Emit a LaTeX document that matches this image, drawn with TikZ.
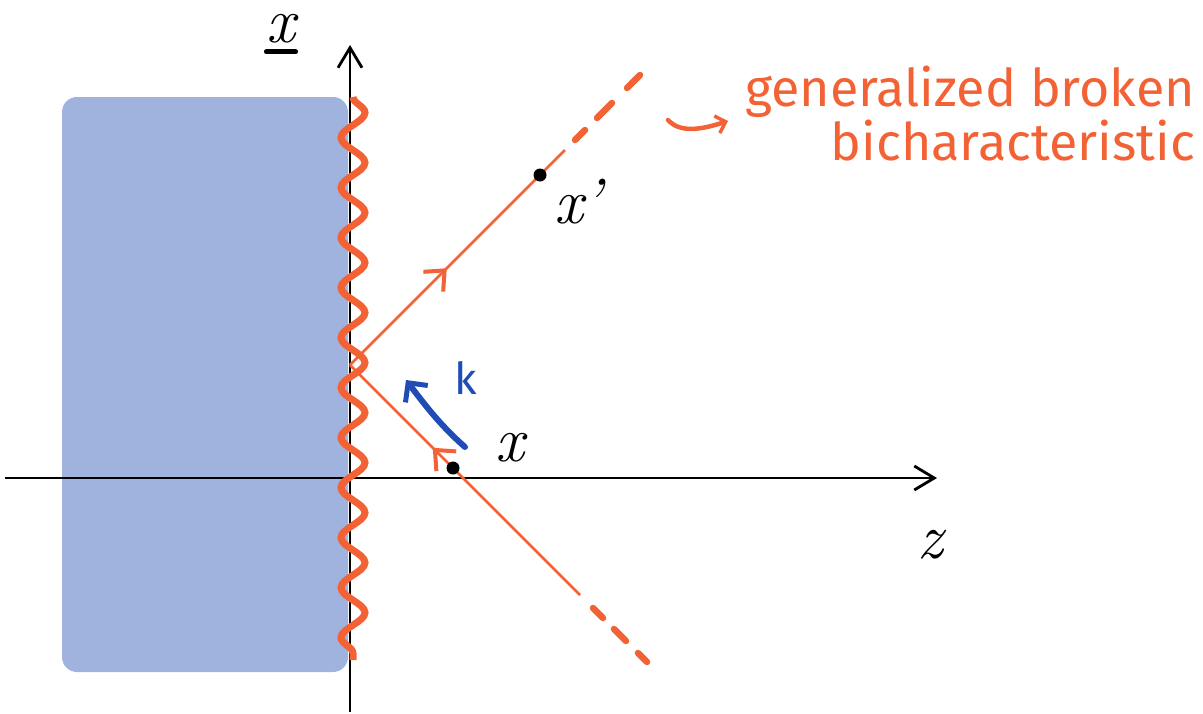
\documentclass[tikz,border=0pt]{standalone}
\usepackage{fontspec}
\setsansfont{Fira Sans}
\definecolor{RayOrange}{HTML}{F26235}
\definecolor{WallBlue}{HTML}{A0B3DE}
\definecolor{KBlue}{HTML}{1F4DB5}
\usetikzlibrary{arrows.meta,decorations.pathmorphing,decorations.markings}

\begin{document}
\begin{tikzpicture}[
  x=1pt,y=-1pt,
  axis/.style={line width=2.8pt,-{Straight Barb[length=20pt,width=24pt,line width=2.8pt]}},
  ray/.style={RayOrange,line width=2.5pt},
  raydash/.style={RayOrange,line width=6.5pt,line cap=round},
  wave/.style={RayOrange,line width=7pt,decorate,decoration={snake,segment length=50pt,amplitude=12pt}},
  dotpt/.style={circle,fill=black,inner sep=0pt,minimum size=13pt},
  lbl/.style={font=\fontsize{64}{70}\selectfont\itshape,inner sep=0pt},
  midarrow/.style={postaction={decorate},decoration={markings,mark=at position #1 with {\arrow{Straight Barb[length=16pt,width=28pt,line width=4pt]}}}}
]
\useasboundingbox (0,0) rectangle (1203,713);
% obstacle
\fill[WallBlue,rounded corners=15pt] (62,97) rectangle (348,672);
% axes
\coordinate (xbot) at (350,712);
\coordinate (xtop) at (350,45);
\coordinate (zleft) at (5,478);
\coordinate (zright) at (937,478);
\draw[axis] (xbot) -- (xtop);
\draw[axis] (zleft) -- (zright);
\node[lbl,anchor=base] (xlabel) at (281,42) {x};
\draw[line width=5pt,line cap=round] ([yshift=-9pt]xlabel.south west) -- ([yshift=-9pt]xlabel.south east);
\node[lbl] (zlabel) at (930,545) {z};
% boundary
\coordinate (wtop) at (353,97);
\coordinate (wbot) at (353,660);
\draw[wave] (wtop) -- (wbot);
% rays
\coordinate (P) at (350,365);
\coordinate (upend) at (565,150);
\coordinate (dnend) at (580,595);
\draw[ray,midarrow=0.45] (P) -- (upend);
\draw[ray,midarrow=0.64] (dnend) -- (P);
\foreach \a/\b in {225/235,247/262,277/290}
  \draw[raydash] (350+\a,365-\a) -- (350+\b,365-\b);
\foreach \a/\b in {243/253,264/276,288/297}
  \draw[raydash] (350+\a,365+\a) -- (350+\b,365+\b);
\node[dotpt] (xpdot) at (540,175) {};
\node[dotpt] (xdot) at (453,468) {};
\node[lbl] (xplabel) at (578,202) {x’};
\node[lbl] (xlbl) at (510,448) {x};
% covector
\coordinate (kstart) at (465,447);
\coordinate (kend) at (406,380);
\draw[KBlue,line width=6pt,line cap=round,-{Straight Barb[length=14pt,width=28pt,line width=5pt]}]
  (kstart) .. controls (440,425) and (425,405) .. (kend);
\node[KBlue,font=\sffamily\fontsize{44}{48}\selectfont] (klabel) at (466,378) {k};
% caption
\node[RayOrange,font=\sffamily\fontsize{52}{54}\selectfont,align=right,anchor=north east,inner sep=0pt] (caption) at (1195,66) {generalized broken\\bicharacteristic};
\coordinate (hookstart) at (668,120);
\coordinate (hookend) at (728,121);
\draw[RayOrange,line width=4.5pt,line cap=round,-{Straight Barb[length=9pt,width=18pt,line width=3.5pt]}]
  (hookstart) .. controls (680,133) and (700,130) .. (hookend);
\end{tikzpicture}
\end{document}
